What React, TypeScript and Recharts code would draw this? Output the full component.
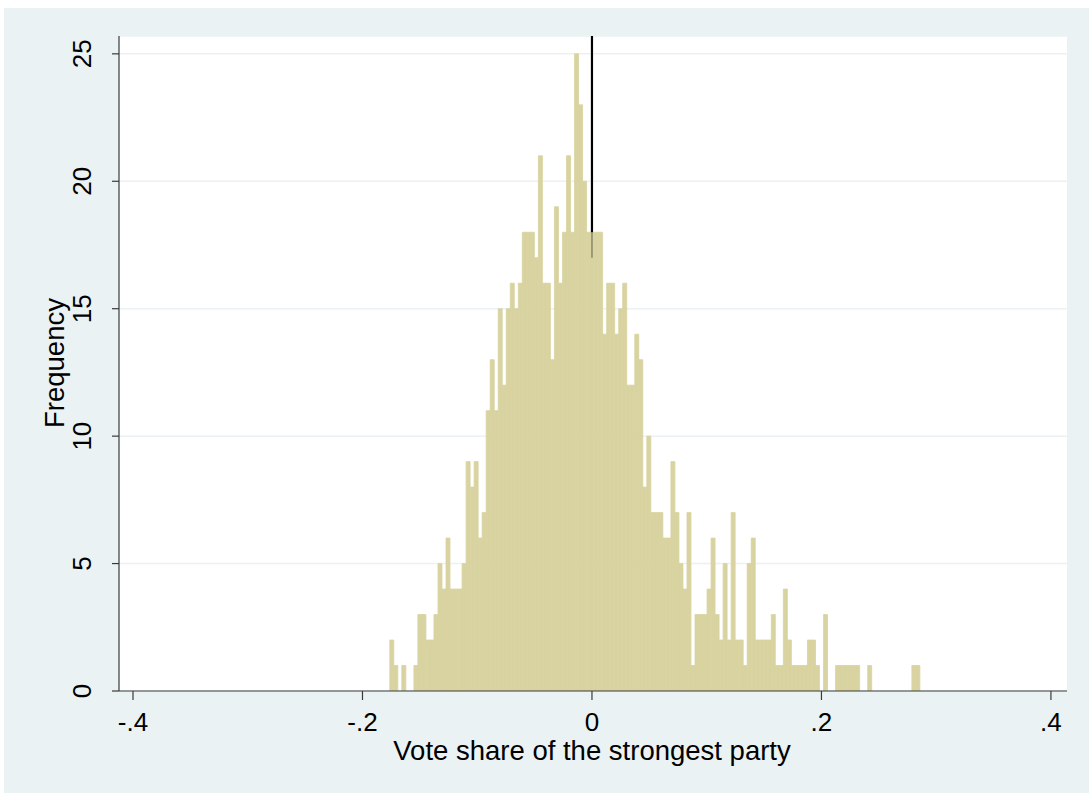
import { BarChart, Bar, XAxis, YAxis, CartesianGrid, ReferenceLine, Label } from 'recharts'

// histogram bins: width .0035, counts
const BIN_START = -0.1762
const BIN_WIDTH = 0.0035
const FREQUENCIES = [
  2, 1, 0, 1, 0, 0, 1, 3, 3, 2,
  2, 3, 5, 4, 6, 4, 4, 4, 5, 9,
  8, 9, 6, 7, 11, 13, 11, 15, 12, 15,
  16, 15, 16, 18, 18, 18, 17, 21, 16, 16,
  13, 19, 16, 18, 21, 18, 25, 23, 20, 18,
  18, 18, 18, 14, 16, 16, 14, 15, 16, 12,
  12, 14, 13, 8, 10, 7, 7, 7, 6, 6,
  9, 7, 5, 4, 7, 1, 3, 3, 3, 4,
  6, 3, 2, 5, 2, 7, 2, 2, 1, 5,
  6, 2, 2, 2, 2, 3, 1, 1, 4, 2,
  1, 1, 1, 1, 2, 2, 1, 0, 3, 0,
  0, 1, 1, 1, 1, 1, 1, 0, 0, 1,
  0, 0, 0, 0, 0, 0, 0, 0, 0, 0,
  1, 1,
]
const X_TICKS = [-0.4, -0.2, 0, 0.2, 0.4]
const X_TICK_LABELS = ['-.4', '-.2', '0', '.2', '.4']
const Y_TICKS = [0, 5, 10, 15, 20, 25]
const CUTOFF = 0
const CUTOFF_LINE_FROM = 17
const CUTOFF_LINE_BAR_TOP = 18

const data = FREQUENCIES.map((f, i) => ({
  x: BIN_START + BIN_WIDTH * (i + 0.5),
  freq: f,
}))

const FONT = '"Liberation Sans", Arial, Helvetica, sans-serif'
const BG = '#eaf2f3'
const BAR_COLOR = '#d8d3a0'
const AXIS_COLOR = '#3a3a3a'

const XTick = ({ x, payload }: any) => {
  const i = X_TICKS.findIndex((t) => Math.abs(t - payload.value) < 1e-9)
  return (
    <text x={x} y={714} textAnchor="middle" dominantBaseline="central"
      fontSize={26} fontFamily={FONT} fill="#000">
      {i >= 0 ? X_TICK_LABELS[i] : payload.value}
    </text>
  )
}

const YTick = ({ y, payload }: any) => (
  <text x={78} y={y} transform={`rotate(-90 78 ${y})`} textAnchor="middle"
    dominantBaseline="central" fontSize={26} fontFamily={FONT} fill="#000">
    {payload.value}
  </text>
)

export default function App() {
  return (
    <div style={{ position: 'absolute', left: 4, top: 8, width: 1085, height: 785, background: BG }}>
      <BarChart
        width={1085}
        height={785}
        data={data}
        margin={{ top: 28, right: 22, bottom: 42, left: 55 }}
        barCategoryGap={0}
        barGap={0}
      >
        <CartesianGrid vertical={false} stroke={BG} strokeWidth={1.5} fill="#ffffff" />
        <XAxis
          dataKey="x"
          type="number"
          domain={[-0.4122, 0.414]}
          allowDataOverflow
          ticks={X_TICKS}
          tick={<XTick />}
          tickSize={9}
          height={60}
          axisLine={{ stroke: AXIS_COLOR, strokeWidth: 1.2 }}
          tickLine={{ stroke: AXIS_COLOR, strokeWidth: 1.2 }}
        >
          <Label
            content={() => (
              <text x={588} y={742} textAnchor="middle" dominantBaseline="central"
                fontSize={27.5} fontFamily={FONT} fill="#000">
                Vote share of the strongest party
              </text>
            )}
          />
        </XAxis>
        <YAxis
          type="number"
          domain={[0, 25.7]}
          allowDataOverflow
          ticks={Y_TICKS}
          tick={<YTick />}
          tickSize={7}
          width={60}
          axisLine={{ stroke: AXIS_COLOR, strokeWidth: 1.2 }}
          tickLine={{ stroke: AXIS_COLOR, strokeWidth: 1.2 }}
        >
          <Label
            content={() => (
              <text x={50} y={355} transform="rotate(-90 50 355)" textAnchor="middle"
                dominantBaseline="central" fontSize={27.5} fontFamily={FONT} fill="#000">
                Frequency
              </text>
            )}
          />
        </YAxis>
        <Bar
          dataKey="freq"
          fill={BAR_COLOR}
          stroke={BAR_COLOR}
          strokeWidth={0.8}
          isAnimationActive={false}
        />
        <ReferenceLine
          segment={[{ x: CUTOFF, y: CUTOFF_LINE_FROM }, { x: CUTOFF, y: CUTOFF_LINE_BAR_TOP }]}
          stroke="#8a876a"
          strokeWidth={1.5}
        />
        <ReferenceLine
          segment={[{ x: CUTOFF, y: CUTOFF_LINE_BAR_TOP }, { x: CUTOFF, y: 25.7 }]}
          stroke="#000000"
          strokeWidth={2.2}
        />
      </BarChart>
    </div>
  )
}
